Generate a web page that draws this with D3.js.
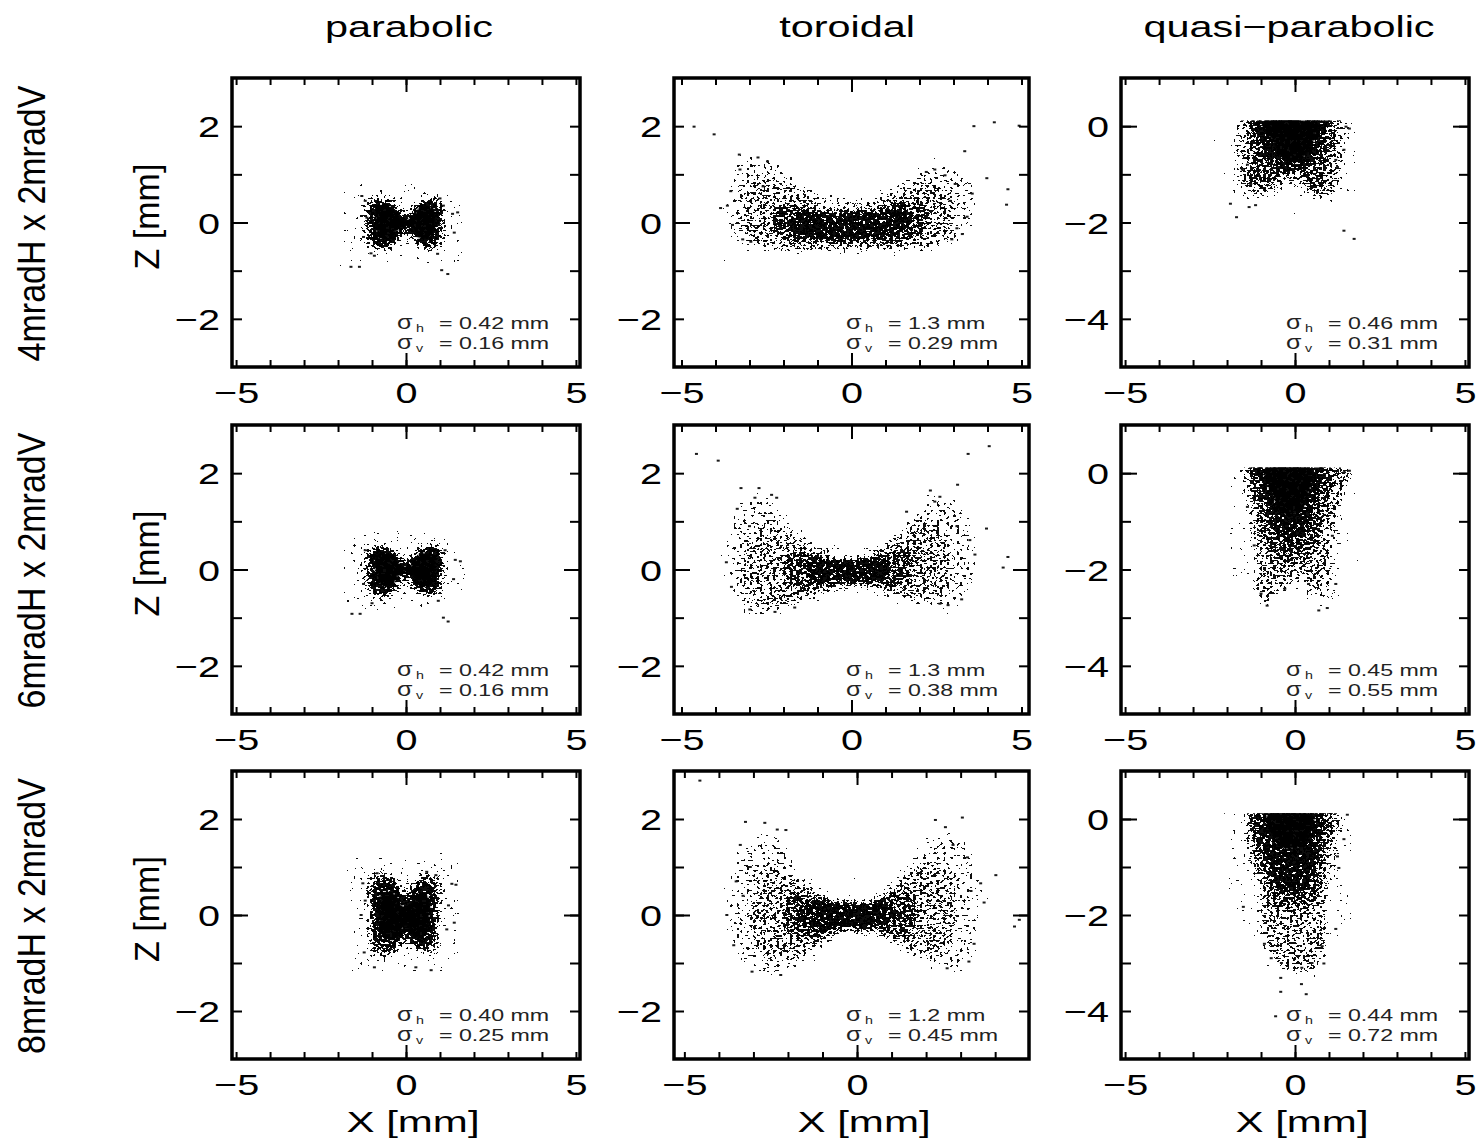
<!DOCTYPE html>
<html><head><meta charset="utf-8">
<script src="https://cdn.jsdelivr.net/npm/d3@7"></script>
<style>
body{margin:0;background:#fff}
svg{display:block;font-family:"Liberation Sans",Arial,Helvetica,sans-serif}
</style></head><body>
<svg id="fig" width="1478" height="1143"></svg>
<script>
// ---- labels ----
const columnTitles = ["parabolic", "toroidal", "quasi\u2212parabolic"];
const rowTitles = ["4mradH x 2mradV", "6mradH x 2mradV", "8mradH x 2mradV"];
const sigmaH = [["0.42", "1.3", "0.46"], ["0.42", "1.3", "0.45"], ["0.40", "1.2", "0.44"]];
const sigmaV = [["0.16", "0.29", "0.31"], ["0.16", "0.38", "0.55"], ["0.25", "0.45", "0.72"]];
const xLabelTicks = [-5, 0, 5];
const zLabelTicksSym = [-2, 0, 2];
const zLabelTicksNeg = [-4, -2, 0];

// ---- axis extents (mm), panels in row-major order ----
const xExtents = [[-5.12, 5.12], [-5.22, 5.22], [-5.12, 5.12],
                  [-5.12, 5.12], [-5.22, 5.22], [-5.12, 5.12],
                  [-5.12, 5.12], [-5.3, 4.98], [-5.12, 5.12]];
const zExtents = [[-3, 3], [-3, 3], [-5, 1]];   // per column
// upper edge of the spot for the quasi-parabolic mirror (sharp cut), per column
const zSpotTop = [null, null, 0.12];

// ---- beam-spot density regions (X, Z in mm), panels row-major ----
// saturated centre (every pixel hit)
const solidRegions = [
  [[-0.85,0.32],[-0.45,0.32],[-0.12,0.08],[0.12,0.08],[0.45,0.34],[0.8,0.3],[0.86,0],[0.72,-0.32],[0.4,-0.33],[0.12,-0.08],[-0.12,-0.08],[-0.45,-0.35],[-0.82,-0.3],[-0.9,0]],
  [],
  [[-0.95,0.06],[0.7,0.06],[0.55,-0.3],[0.2,-0.7],[-0.3,-0.7],[-0.65,-0.35]],
  [[-0.85,0.32],[-0.45,0.32],[-0.12,0.08],[0.12,0.08],[0.45,0.34],[0.8,0.3],[0.86,0],[0.72,-0.32],[0.4,-0.33],[0.12,-0.08],[-0.12,-0.08],[-0.45,-0.35],[-0.82,-0.3],[-0.9,0]],
  [],
  [[-0.9,0.06],[0.5,0.06],[0.4,-0.45],[0.1,-0.85],[-0.35,-0.85],[-0.7,-0.4]],
  [[-0.75,0.42],[-0.35,0.46],[-0.08,0.18],[0.1,0.22],[0.4,0.46],[0.66,0.36],[0.7,0],[0.56,-0.42],[0.22,-0.46],[0,-0.22],[-0.3,-0.5],[-0.7,-0.42],[-0.8,0]],
  [],
  [[-0.85,0.06],[0.55,0.06],[0.4,-0.35],[0.15,-0.6],[-0.4,-0.6],[-0.7,-0.3]]
];
// very dense core (near-black speckle)
const coreRegions = [
  [[-1.0,0.4],[-0.5,0.42],[-0.05,0.1],[0.05,0.1],[0.5,0.44],[0.95,0.4],[1.0,0],[0.85,-0.44],[0.45,-0.46],[0.05,-0.12],[-0.05,-0.12],[-0.5,-0.48],[-1.0,-0.4],[-1.08,0]],
  [[-1.7,0.2],[-0.5,0.16],[0.5,0.2],[1.6,0.28],[1.7,-0.05],[1.1,-0.3],[0,-0.33],[-1.1,-0.33],[-1.8,-0.18]],
  [[-1.2,0.2],[0.95,0.2],[0.85,-0.28],[0.55,-0.7],[0.15,-0.9],[-0.35,-0.9],[-0.85,-0.6],[-1.1,-0.22]],
  [[-1.0,0.4],[-0.5,0.42],[-0.05,0.1],[0.05,0.1],[0.5,0.44],[0.95,0.4],[1.0,0],[0.85,-0.44],[0.45,-0.46],[0.05,-0.12],[-0.05,-0.12],[-0.5,-0.48],[-1.0,-0.4],[-1.08,0]],
  [[-1.2,0.22],[-0.4,0.18],[0.3,0.18],[1.0,0.24],[1.15,-0.05],[0.6,-0.24],[-0.3,-0.24],[-1.1,-0.27],[-1.35,-0.05]],
  [[-1.15,0.2],[0.8,0.2],[0.65,-0.5],[0.4,-1.1],[0,-1.5],[-0.5,-1.25],[-0.85,-0.55]],
  [[-0.92,0.6],[-0.4,0.68],[-0.05,0.32],[0.05,0.32],[0.4,0.68],[0.8,0.6],[0.85,0],[0.7,-0.55],[0.25,-0.62],[0,-0.34],[-0.35,-0.68],[-0.85,-0.55],[-0.95,0]],
  [[-1.6,0.26],[-0.6,0.24],[0.2,0.22],[0.9,0.26],[1.15,-0.05],[0.6,-0.26],[-0.4,-0.26],[-1.3,-0.34],[-1.7,-0.05]],
  [[-1.15,0.2],[0.85,0.2],[0.75,-0.4],[0.55,-1.0],[0.35,-1.45],[-0.55,-1.45],[-0.75,-0.9],[-1.0,-0.4]]
];
const denseRegions = [
  [[-1.1,0.45],[-0.5,0.47],[0,0.14],[0.5,0.49],[1.05,0.45],[1.1,0],[0.92,-0.52],[0.45,-0.52],[0,-0.16],[-0.5,-0.56],[-1.06,-0.47],[-1.17,0]],
  [[-2.2,0.38],[-1,0.28],[0,0.25],[1,0.35],[2.1,0.5],[2.3,0],[1.8,-0.4],[0.5,-0.44],[-0.5,-0.44],[-1.7,-0.44],[-2.3,-0.15]],
  [[-1.35,0.3],[1.05,0.3],[1.15,-0.3],[0.95,-0.82],[0.9,-1.3],[0.6,-1.4],[0.2,-1.02],[-0.3,-1.02],[-0.88,-1.34],[-1.45,-1.07],[-1.25,-0.6],[-1.4,-0.2]],
  [[-1.1,0.45],[-0.5,0.47],[0,0.14],[0.5,0.49],[1.05,0.45],[1.1,0],[0.92,-0.52],[0.45,-0.52],[0,-0.16],[-0.5,-0.56],[-1.06,-0.47],[-1.17,0]],
  [[-1.8,0.4],[-0.8,0.26],[0,0.22],[0.9,0.32],[1.7,0.48],[1.9,0],[1.45,-0.38],[0.4,-0.32],[-0.4,-0.32],[-1.4,-0.48],[-2.0,-0.12]],
  [[-1.35,0.3],[1.15,0.3],[0.95,-0.8],[0.65,-1.52],[0.22,-1.85],[-0.42,-1.85],[-0.95,-1.32],[-1.15,-0.6]],
  [[-1.0,0.76],[-0.45,0.84],[0,0.42],[0.45,0.86],[0.9,0.76],[0.95,0],[0.8,-0.68],[0.3,-0.78],[0,-0.46],[-0.4,-0.84],[-0.93,-0.68],[-1.05,0]],
  [[-2.0,0.46],[-1,0.34],[-0.3,0.28],[0.4,0.28],[1.35,0.52],[1.8,0.1],[1.5,-0.42],[0.4,-0.34],[-0.5,-0.34],[-1.45,-0.56],[-2.1,-0.22]],
  [[-1.3,0.3],[1.0,0.3],[0.95,-0.6],[0.75,-1.3],[0.6,-1.85],[-0.62,-1.85],[-0.9,-1.2],[-1.25,-0.6]]
];
const mediumRegions = [
  [[-1.25,0.52],[-0.5,0.54],[0,0.2],[0.5,0.54],[1.17,0.52],[1.22,0],[1.03,-0.62],[0.45,-0.62],[0,-0.22],[-0.5,-0.64],[-1.22,-0.57],[-1.32,0]],
  [[-3.1,0.6],[-2.6,1.05],[-1.75,0.8],[-0.8,0.45],[0,0.37],[1,0.52],[2.05,0.88],[2.8,0.82],[3.1,0.1],[2.7,-0.45],[1.3,-0.55],[0,-0.6],[-1.3,-0.6],[-2.6,-0.52],[-3.25,-0.18]],
  [[-1.55,0.35],[1.35,0.35],[1.4,-0.5],[1.3,-1.15],[0.95,-1.5],[0.5,-1.5],[0,-1.15],[-0.5,-1.25],[-1.05,-1.5],[-1.65,-1.25],[-1.65,-0.6]],
  [[-1.25,0.52],[-0.5,0.54],[0,0.2],[0.5,0.54],[1.17,0.52],[1.22,0],[1.03,-0.62],[0.45,-0.62],[0,-0.22],[-0.5,-0.64],[-1.22,-0.57],[-1.32,0]],
  [[-3.1,0.55],[-2.5,1.05],[-1.65,0.72],[-0.6,0.36],[0,0.26],[0.8,0.42],[1.65,0.9],[2.6,1.0],[3.0,0.22],[2.7,-0.62],[1.5,-0.56],[0.5,-0.36],[-0.5,-0.42],[-1.5,-0.66],[-2.7,-0.76],[-3.25,-0.32]],
  [[-1.5,0.35],[1.55,0.35],[1.25,-1.0],[1.05,-1.85],[1.15,-2.65],[0.6,-2.65],[0.1,-2.05],[-0.6,-2.65],[-1.15,-2.75],[-1.15,-1.85],[-1.35,-0.82]],
  [[-1.1,0.88],[-0.5,0.95],[0,0.55],[0.5,0.95],[1.0,0.9],[1.08,0],[0.92,-0.85],[0.4,-0.9],[0,-0.55],[-0.45,-0.95],[-1.02,-0.85],[-1.18,0]],
  [[-3.1,0.32],[-2.6,1.05],[-1.65,0.75],[-0.7,0.35],[0,0.25],[0.8,0.45],[1.75,1.05],[2.5,1.05],[2.85,0.3],[2.7,-0.65],[2.05,-1.0],[1.2,-0.66],[0.4,-0.35],[-0.6,-0.4],[-1.6,-0.9],[-2.6,-0.96],[-3.1,-0.42]],
  [[-1.35,0.35],[1.35,0.35],[1.15,-0.8],[0.95,-1.7],[0.95,-2.55],[0.75,-3.05],[-0.22,-3.15],[-0.95,-2.55],[-1.05,-1.6],[-1.35,-0.7]]
];
const sparseRegions = [
  [],
  [[-3.7,0.42],[-3.4,1.4],[-2.5,1.45],[-1.8,1.0],[-0.8,0.58],[0,0.48],[0.8,0.64],[1.8,1.05],[2.65,1.3],[3.45,1.15],[3.7,0.3],[3.5,-0.32],[2.5,-0.58],[1.2,-0.64],[0,-0.68],[-1.5,-0.66],[-2.65,-0.64],[-3.4,-0.5],[-3.8,0]],
  [[-1.75,0.35],[1.55,0.35],[1.6,-0.5],[1.5,-1.25],[1.05,-1.65],[0.5,-1.6],[0,-1.25],[-0.5,-1.35],[-1.15,-1.65],[-1.85,-1.35],[-1.85,-0.6]],
  [],
  [[-3.7,0.3],[-3.4,1.4],[-2.5,1.65],[-1.8,1.0],[-0.8,0.45],[0,0.33],[0.8,0.55],[1.7,1.2],[2.6,1.65],[3.35,1.25],[3.7,0.4],[3.4,-0.7],[2.5,-0.86],[1.2,-0.65],[0,-0.43],[-1,-0.68],[-2,-0.96],[-3.15,-0.96],[-3.7,-0.3]],
  [[-1.6,0.35],[1.65,0.35],[1.35,-1.0],[1.15,-1.9],[1.25,-2.8],[0.6,-2.8],[0.1,-2.15],[-0.6,-2.8],[-1.25,-2.9],[-1.25,-1.9],[-1.45,-0.85]],
  [],
  [[-3.8,0.2],[-3.4,1.4],[-2.3,1.8],[-1.6,0.95],[-0.7,0.4],[0,0.3],[0.8,0.55],[1.6,1.25],[2.5,1.9],[3.15,1.7],[3.5,0.8],[3.6,-0.2],[3.3,-1.05],[2.6,-1.22],[1.5,-0.9],[0.5,-0.4],[-0.5,-0.45],[-1.5,-1.05],[-2.3,-1.32],[-3.25,-1.22],[-3.7,-0.6]],
  [[-1.45,0.35],[1.45,0.35],[1.25,-0.8],[1.05,-1.7],[1.05,-2.65],[0.85,-3.2],[-0.25,-3.3],[-1.05,-2.65],[-1.15,-1.6],[-1.45,-0.7]]
];

// ---- isolated rays outside the main spot ----
const strayPoints = [
  [[-1.62,-0.92],[-1.37,-0.92],[1.05,-0.99],[1.23,-1.07],[1.37,0.18],[1.52,0.21],[1.42,-0.21],[-1.03,-0.64],[-0.93,-0.69],[0.93,-0.65],[-1.2,0.45],[-1.25,-0.3],[-1.15,0.1],[1.1,0.35],[-1.3,0.55],[1.0,0.5]],
  [[-4.63,1.99],[-4.04,1.83],[3.6,2.0],[4.2,2.08],[4.93,2.01],[3.33,1.48],[3.98,0.92],[4.6,0.69],[4.56,0.37],[3.26,-0.24],[3.4,0.12],[-3.65,0.35],[-3.5,-0.05],[-2.96,-0.4],[-3.3,1.41],[-3.28,1.1],[-2.47,1.27],[-2.75,1.35],[-2.6,0.75],[2.45,1.1],[2.75,0.98],[3.05,0.8],[2.9,0.45],[3.1,-0.12],[2.95,-0.35],[3.55,0.6],[-3.85,0.3],[-3.2,-0.35],[2.2,1.05],[-3.55,0.65]],
  [[-1.9,-1.61],[-1.72,-1.89],[-1.35,-1.68],[-1.16,-1.64],[1.44,-2.17],[1.74,-2.34],[1.5,-0.01],[1.6,-0.05],[1.44,-0.49],[1.25,-0.85],[1.2,-0.7],[-1.4,-0.8],[-1.55,-0.9],[-1.3,-1.2]],
  [[-1.59,-0.92],[-1.35,-0.92],[1.24,-1.08],[1.1,-1.0],[1.6,0.17],[1.45,0.2],[-1.0,-0.7],[0.95,-0.65],[1.4,-0.2],[-1.2,0.4],[1.15,0.4],[-1.25,-0.3]],
  [[-4.56,2.4],[-3.92,2.26],[-3.25,1.69],[-2.72,1.69],[-3.36,1.26],[-2.84,1.49],[-2.35,1.55],[-2.2,1.49],[3.43,2.4],[4.05,2.56],[3.12,1.76],[2.32,1.64],[2.6,1.51],[2.45,1.41],[1.62,1.2],[3.97,0.85],[4.6,0.26],[4.46,0.04],[3.63,0.31],[3.48,0.61],[-2.99,-0.83],[-2.25,-0.88],[-1.67,-0.79],[-3.53,-0.36],[-3.68,0.15],[3.24,-0.62],[2.84,-0.74],[2.6,-0.71],[3.1,0.9],[-3.0,0.9]],
  [[-0.82,-2.75],[-1.0,-2.5],[0.7,-2.85],[0.95,-2.8],[1.2,-2.3],[1.6,0.05],[1.45,0.02],[-1.4,-0.7],[-1.2,-1.5],[1.1,-1.3],[-0.3,-2.4],[0.4,-2.3]],
  [[-0.85,0.87],[1.47,0.63],[1.42,-0.16],[-0.93,-1.09],[0.29,-1.09],[0.74,-1.15],[-1.23,-0.78],[-1.32,0.0],[-1.27,0.66],[0.88,0.83],[0.61,0.9],[1.25,0.2],[1.2,-0.3],[-1.2,0.3],[1.35,0.65]],
  [[-4.55,2.8],[-3.23,1.94],[-2.67,1.92],[-2.31,1.78],[-2.06,1.77],[-3.38,1.46],[-3.09,1.0],[2.27,1.98],[3.05,2.03],[2.56,1.83],[2.78,1.46],[4.02,0.83],[3.58,0.66],[3.68,0.26],[4.7,-0.1],[4.56,-0.24],[-3.77,0],[-3.57,-0.63],[-3.04,-1.18],[-2.21,-1.25],[3.24,-0.97],[2.61,-1.11],[3.39,-0.6],[3.2,1.2],[3.3,0.5],[-3.3,0.4],[-3.5,0.7]],
  [[-0.42,-3.31],[0.19,-3.44],[-0.42,-3.6],[0.33,-3.65],[-0.57,-4.11],[-1.52,-1.83],[1.2,-2.29],[1.54,0.09],[1.29,-1.02],[1.25,-0.78],[1.44,-0.42],[0.8,-2.65],[0.85,-3.01],[-0.9,-2.6],[-0.7,-2.9],[0.5,-3.0],[0.2,-3.1],[-0.4,-3.0]]
];

// ---- layout (pixels) ----
const W = 1478, H = 1143;
const colBox = [[232, 580], [674, 1029], [1121, 1469]];
const rowBox = [[78, 367], [425, 714], [771, 1059]];
const titleX = [409, 847, 1289];
const FONT = '"Liberation Sans", Arial, Helvetica, sans-serif';

const svg = d3.select("#fig");
const defs = svg.append("defs");

// Stippled fill: fractal noise whose cut level is raised towards the rim of
// the region (blurred region alpha), so the hit density fades out gradually.
function stippleFilter(id, threshold, seed, rim, fade) {
  const f = defs.append("filter").attr("id", id)
    .attr("x", -0.35).attr("y", -0.35).attr("width", 1.7).attr("height", 1.7)
    .attr("color-interpolation-filters", "sRGB");
  f.append("feTurbulence").attr("type", "fractalNoise")
    .attr("baseFrequency", "0.3 0.4").attr("numOctaves", 1)
    .attr("seed", seed).attr("result", "noise");
  f.append("feColorMatrix").attr("in", "noise").attr("type", "matrix")
    .attr("values", "0 0 0 0 0  0 0 0 0 0  0 0 0 0 0  1 0 0 0 0")
    .attr("result", "a");
  f.append("feGaussianBlur").attr("in", "SourceAlpha").attr("stdDeviation", rim).attr("result", "m0");
  f.append("feComponentTransfer").attr("in", "m0").attr("result", "m")
    .append("feFuncA").attr("type", "linear").attr("slope", 1.3).attr("intercept", 0);
  f.append("feComposite").attr("in", "a").attr("in2", "m").attr("operator", "arithmetic")
    .attr("k1", 0).attr("k2", 1).attr("k3", fade).attr("k4", -fade).attr("result", "w");
  const N = 100;
  const table = d3.range(N).map(k => (k / N >= threshold ? 0.95 : 0)).join(" ");
  f.append("feComponentTransfer").attr("in", "w").attr("result", "dots")
    .append("feFuncA").attr("type", "discrete").attr("tableValues", table);
  f.append("feGaussianBlur").attr("in", "dots").attr("stdDeviation", 0.35);
}
stippleFilter("stip-core", 0.42, 3, 3, 0.3);
stippleFilter("stip-dense", 0.5, 5, 5, 0.3);
stippleFilter("stip-medium", 0.57, 9, 8, 0.3);
stippleFilter("stip-sparse", 0.63, 17, 12, 0.3);
const soft = defs.append("filter").attr("id", "soft").attr("x", -0.2).attr("y", -0.2).attr("width", 1.4).attr("height", 1.4);
soft.append("feGaussianBlur").attr("stdDeviation", 1.3);

const minus = s => String(s).replace("-", "\u2212");

for (let r = 0; r < 3; r++) {
  for (let c = 0; c < 3; c++) {
    const i = r * 3 + c;
    const [x0, x1] = colBox[c];
    const [y0, y1] = rowBox[r];
    const x = d3.scaleLinear().domain(xExtents[i]).range([x0, x1]);
    const z = d3.scaleLinear().domain(zExtents[c]).range([y1, y0]);

    const g = svg.append("g");
    const clipId = "clip" + i;
    const top = zSpotTop[c] === null ? y0 : z(zSpotTop[c]);
    defs.append("clipPath").attr("id", clipId)
      .append("rect").attr("x", x0).attr("y", top).attr("width", x1 - x0).attr("height", y1 - top);
    const plot = g.append("g").attr("clip-path", `url(#${clipId})`);

    const shape = d3.line().x(d => x(d[0])).y(d => z(d[1])).curve(d3.curveCatmullRomClosed.alpha(0.5));
    const layers = [
      [sparseRegions[i], "url(#stip-sparse)"],
      [mediumRegions[i], "url(#stip-medium)"],
      [denseRegions[i], "url(#stip-dense)"],
      [coreRegions[i], "url(#stip-core)"]
    ];
    layers.forEach(([poly, filt]) => {
      if (poly.length) plot.append("path").attr("d", shape(poly)).attr("fill", "#000").attr("filter", filt);
    });
    if (solidRegions[i].length)
      plot.append("path").attr("d", shape(solidRegions[i])).attr("fill", "#000")
        .attr("opacity", 0.95).attr("filter", "url(#soft)");

    plot.selectAll("rect.ray").data(strayPoints[i]).join("rect").attr("class", "ray")
      .attr("x", d => x(d[0]) - 1.5).attr("y", d => z(d[1]) - 1)
      .attr("width", 3).attr("height", 2).attr("fill", "#1a1a1a");

    // ticks: every mm (minor), zero tick longer
    const xMinor = d3.range(Math.ceil(xExtents[i][0] + 1e-6), Math.floor(xExtents[i][1] - 1e-6) + 1);
    const zMinor = d3.range(Math.ceil(zExtents[c][0] + 1e-6), Math.floor(zExtents[c][1] - 1e-6) + 1);
    const tickAxes = [
      [d3.axisBottom(x).tickValues(xMinor).tickSize(-7), `translate(0,${y1})`],
      [d3.axisTop(x).tickValues(xMinor).tickSize(-7), `translate(0,${y0})`],
      [d3.axisBottom(x).tickValues([0]).tickSize(-14), `translate(0,${y1})`],
      [d3.axisTop(x).tickValues([0]).tickSize(-14), `translate(0,${y0})`],
      [d3.axisLeft(z).tickValues(zMinor).tickSize(-10), `translate(${x0},0)`],
      [d3.axisRight(z).tickValues(zMinor).tickSize(-10), `translate(${x1},0)`],
      [d3.axisLeft(z).tickValues([0]).tickSize(-16), `translate(${x0},0)`],
      [d3.axisRight(z).tickValues([0]).tickSize(-16), `translate(${x1},0)`]
    ];
    tickAxes.forEach(([ax, tr]) => {
      const a = g.append("g").attr("transform", tr).call(ax.tickFormat(""));
      a.select(".domain").remove();
      a.selectAll("line").attr("stroke", "#000").attr("stroke-width", 2);
    });

    // tick labels
    const xl = g.append("g").attr("transform", `translate(0,${y1})`)
      .call(d3.axisBottom(x).tickValues(xLabelTicks.filter(v => v >= xExtents[i][0] && v <= xExtents[i][1]))
        .tickSize(0).tickFormat(minus));
    xl.select(".domain").remove();
    xl.selectAll("text").attr("y", 0).attr("dy", null)
      .attr("font-family", FONT).attr("font-size", 30).attr("fill", "#000")
      .attr("transform", "translate(0,36) scale(1.32,1)");
    const zl = g.append("g").attr("transform", `translate(${x0},0)`)
      .call(d3.axisLeft(z).tickValues(c === 2 ? zLabelTicksNeg : zLabelTicksSym).tickSize(0).tickFormat(minus));
    zl.select(".domain").remove();
    zl.selectAll("text").attr("x", 0).attr("dy", "0.36em")
      .attr("font-family", FONT).attr("font-size", 30).attr("fill", "#000")
      .attr("transform", "translate(-12,0) scale(1.32,1)");

    // frame
    g.append("rect").attr("x", x0).attr("y", y0).attr("width", x1 - x0).attr("height", y1 - y0)
      .attr("fill", "none").attr("stroke", "#000").attr("stroke-width", 3.5);

    // beam size annotation
    const sx = x1 - 183;
    [[sigmaH[r][c], "h", y1 - 38], [sigmaV[r][c], "v", y1 - 18]].forEach(([val, sub, by]) => {
      const t = g.append("g").attr("font-family", FONT).attr("fill", "#222");
      t.append("text").attr("transform", `translate(${sx},${by}) scale(1.25,1)`)
        .attr("font-size", 20).text("\u03c3");
      t.append("text").attr("transform", `translate(${sx + 19},${by + 3}) scale(1.3,1)`)
        .attr("font-size", 11).text(sub);
      t.append("text").attr("transform", `translate(${sx + 42},${by}) scale(1.45,1)`)
        .attr("font-size", 16).text("= " + val + " mm");
    });

    // axis titles
    if (c === 0) {
      g.append("text").attr("font-family", FONT).attr("font-size", 34).attr("fill", "#000")
        .attr("text-anchor", "middle").attr("dy", "0.35em")
        .attr("transform", `translate(147,${z(0) - 6}) scale(1.05,1) rotate(-90)`)
        .text("Z [mm]");
    }
    if (r === 2) {
      g.append("text").attr("font-family", FONT).attr("font-size", 29).attr("fill", "#000")
        .attr("text-anchor", "middle")
        .attr("transform", `translate(${x(0) + 7},1132) scale(1.45,1)`)
        .text("X [mm]");
    }
  }
}

// column and row headings
svg.selectAll("text.col").data(columnTitles).join("text").attr("class", "col")
  .attr("font-family", FONT).attr("font-size", 30).attr("fill", "#000").attr("text-anchor", "middle")
  .attr("transform", (d, k) => `translate(${titleX[k]},37) scale(1.38,1)`)
  .text(d => d);
svg.selectAll("text.row").data(rowTitles).join("text").attr("class", "row")
  .attr("font-family", FONT).attr("font-size", 34).attr("fill", "#000").attr("text-anchor", "middle")
  .attr("dy", "0.35em")
  .attr("transform", (d, k) => {
    const [a, b] = rowBox[k];
    return `translate(31,${(a + b) / 2 + 1}) scale(1.15,1) rotate(-90)`;
  })
  .text(d => d);
</script>
</body></html>
